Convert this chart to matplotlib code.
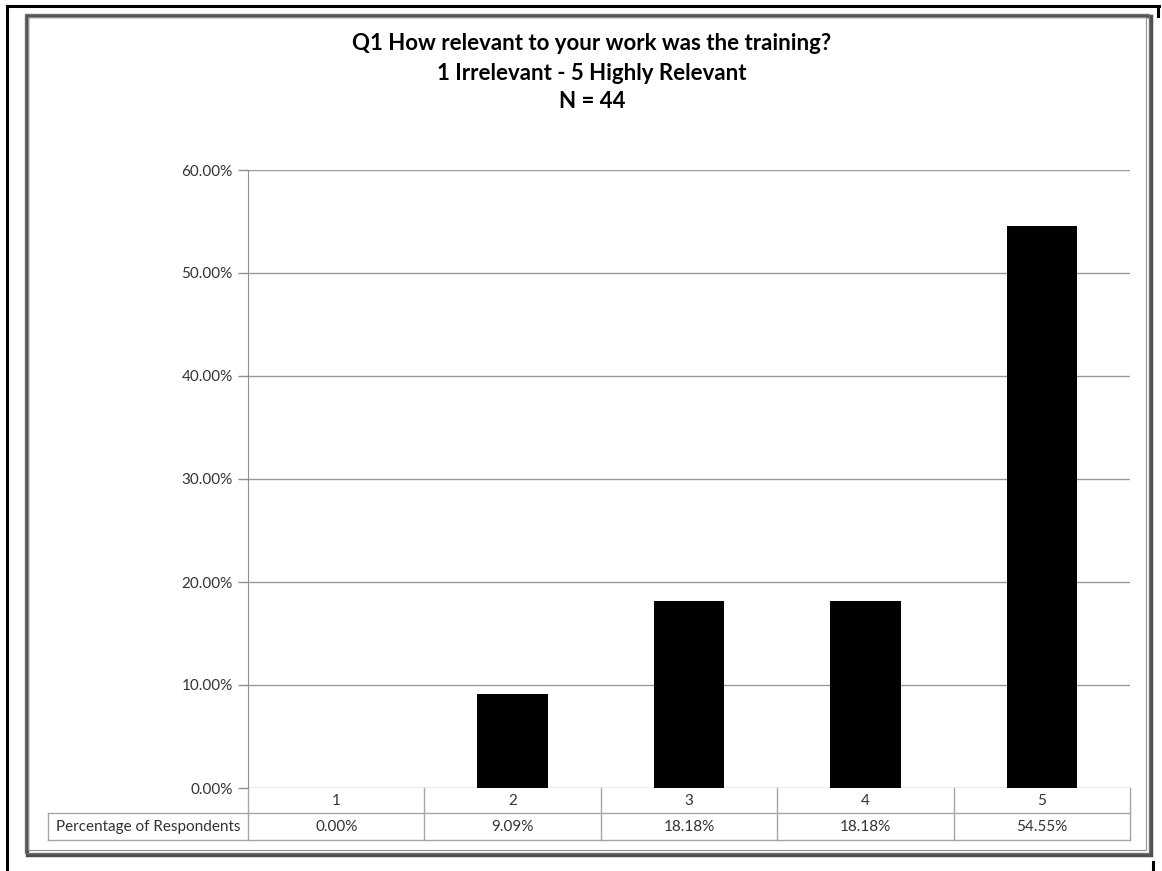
import numpy as np
import matplotlib.pyplot as plt
from matplotlib.lines import Line2D
from matplotlib.patches import Rectangle
from matplotlib.transforms import blended_transform_factory
from matplotlib.ticker import FuncFormatter

plt.rcParams['font.family'] = ['Lato', 'DejaVu Sans']

categories = ['1', '2', '3', '4', '5']
percentages = [0.00, 9.09, 18.18, 18.18, 54.55]
row_label = 'Percentage of Respondents'
title_lines = ['Q1 How relevant to your work was the training?',
               '1 Irrelevant - 5 Highly Relevant',
               'N = 44']

W, H = 1162, 871
fig = plt.figure(figsize=(W / 100, H / 100), dpi=100)
fig.patch.set_facecolor('white')

def px(x, y):
    return x / W, 1 - y / H

# outer black frame (partly behind the chart box)
for xs, ys in [((7, 1159), (6, 6)), ((7, 7), (6, 871)),
               ((1158, 1158), (6, 16)), ((1153, 1153), (862, 871))]:
    p0, p1 = px(xs[0], ys[0]), px(xs[1], ys[1])
    fig.add_artist(Line2D([p0[0], p1[0]], [p0[1], p1[1]], color='black', lw=2.2))

# chart box with double grey border and shadow
x0, y0 = px(25, 853)
x1, y1 = px(1149, 14)
fig.add_artist(Rectangle((x0 + 2 / W, y0 - 2 / H), x1 - x0, y1 - y0, facecolor='none',
                         edgecolor='#505050', lw=2.5))
fig.add_artist(Rectangle((x0, y0), x1 - x0, y1 - y0, facecolor='none',
                         edgecolor='#707070', lw=1.0))
a0, b0 = px(28, 850)
a1, b1 = px(1146, 17)
fig.add_artist(Rectangle((a0, b0), a1 - a0, b1 - b0, facecolor='none',
                         edgecolor='#909090', lw=0.8))

# titles
for txt, ty in zip(title_lines, [43, 74, 102]):
    fig.text(px(592, ty)[0], px(592, ty)[1], txt, ha='center', va='center',
             fontsize=16, fontweight='bold', color='black')

# plot area
left, top = px(248, 170)
right, bottom = px(1130, 788)
ax = fig.add_axes([left, bottom, right - left, top - bottom])
ax.set_zorder(2)
ax.patch.set_alpha(0)
x = np.arange(len(categories))
ax.bar(x, percentages, width=0.4, color='black', zorder=3)
ax.set_xlim(-0.5, len(categories) - 0.5)
ax.set_ylim(0, 60)
ax.set_yticks(np.arange(0, 61, 10))
ax.yaxis.set_major_formatter(FuncFormatter(lambda v, p: f'{v:.2f}%'))
ax.tick_params(axis='y', length=7, width=1, color='#909090', labelsize=11,
               labelcolor='#333333', pad=4)
ax.set_xticks([])
ax.grid(axis='y', color='#999999', lw=1, zorder=0)
for s in ['top', 'right', 'bottom']:
    ax.spines[s].set_visible(False)
ax.spines['left'].set_color('#909090')

# data table under the axis
tr = blended_transform_factory(ax.transData, ax.transAxes)
h = 618
r1 = -25 / h
r2 = -52 / h
lab_left = -0.5 - 200 / (882 / len(categories))
gc = '#a6a6a6'
n = len(categories)
ax.plot([-0.5, n - 0.5], [r1, r1], color=gc, lw=1, transform=tr, clip_on=False)
ax.plot([lab_left, n - 0.5], [r2, r2], color=gc, lw=1, transform=tr, clip_on=False)
ax.plot([lab_left, -0.5], [r1, r1], color=gc, lw=1, transform=tr, clip_on=False)
ax.plot([lab_left, lab_left], [r1, r2], color=gc, lw=1, transform=tr, clip_on=False)
for i in range(n + 1):
    ax.plot([i - 0.5, i - 0.5], [0, r2], color=gc, lw=1, transform=tr, clip_on=False)
for i, (c, v) in enumerate(zip(categories, percentages)):
    ax.text(i, r1 / 2, c, ha='center', va='center', fontsize=11, color='#333333',
            transform=tr)
    ax.text(i, (r1 + r2) / 2, f'{v:.2f}%', ha='center', va='center', fontsize=11,
            color='#333333', transform=tr)
ax.text((lab_left - 0.5) / 2, (r1 + r2) / 2, row_label, ha='center', va='center',
        fontsize=11, color='#333333', transform=tr)

fig.savefig('out.png', dpi=100)
